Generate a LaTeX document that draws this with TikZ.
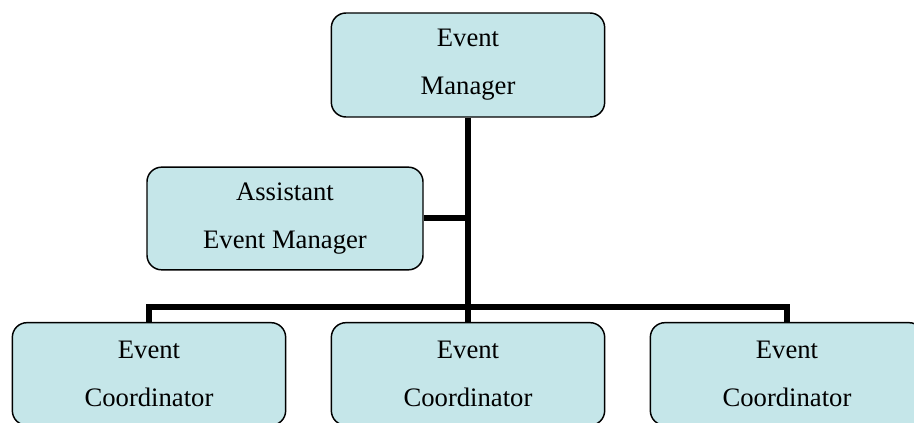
\documentclass[tikz,border=0pt]{standalone}
\usepackage{fontspec}
\setmainfont{Liberation Serif}
\usetikzlibrary{positioning}
\definecolor{boxfill}{RGB}{197,230,233}

\begin{document}
\begin{tikzpicture}[x=0.75pt,y=-0.75pt,
  post/.style={draw,line width=1.1pt,rounded corners=11pt,fill=boxfill,
               minimum width=205pt,inner sep=0pt,align=center,
               font=\fontsize{20}{36}\selectfont},
  conn/.style={line width=4.5pt}]
\useasboundingbox (0,0) rectangle (914,423);
\begin{scope}
\clip (0,0) rectangle (914,423);
\node[post,minimum height=78pt] (mgr) at (468,65) {Event\\Manager};
\node[post,minimum height=77pt,minimum width=207pt] (asst) at (285,218.5)
  {Assistant\\Event Manager};
\node[post,minimum height=77pt] (coA) at (149,374) {Event\\Coordinator};
\node[post,minimum height=77pt] (coB) at (468,374) {Event\\Coordinator};
\node[post,minimum height=77pt] (coC) at (787,374) {Event\\Coordinator};
\coordinate (bar) at (468,307);
\draw[conn] (mgr.south) -- (coB.north);
\draw[conn] (asst.east) -- (asst.east -| mgr.south);
\draw[conn] (coA.north) |- (bar) -| (coC.north);
\end{scope}
\end{tikzpicture}
\end{document}
